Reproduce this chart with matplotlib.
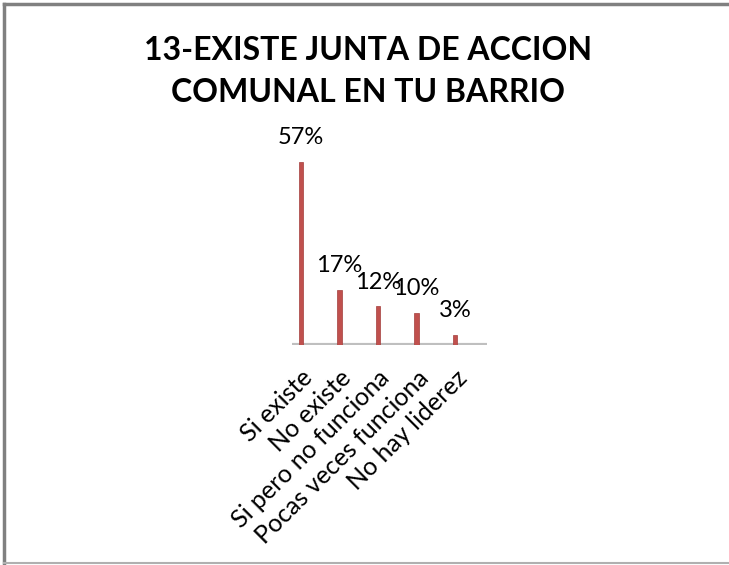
import matplotlib
matplotlib.use("Agg")
import matplotlib.pyplot as plt
from matplotlib.lines import Line2D

# data
categories = ["Si existe", "No existe", "Si pero no funciona", "Pocas veces funciona", "No hay liderez"]
percentages = [57, 17, 12, 10, 3]
value_labels = ["57%", "17%", "12%", "10%", "3%"]

plt.rcParams['font.family'] = ['Lato', 'DejaVu Sans']

W, H = 729, 565
fig = plt.figure(figsize=(W / 100, H / 100), dpi=100)

# outer frame of the chart area (no right edge visible in the original)
fig.add_artist(Line2D([4 / W, 4 / W], [0, 1 - 4 / H], color="#808080", lw=2.5))
fig.add_artist(Line2D([4 / W, 1], [1 - 4 / H, 1 - 4 / H], color="#808080", lw=2.5))
fig.add_artist(Line2D([4 / W, 1], [2 / H, 2 / H], color="#b0b0b0", lw=1.5))

ax = fig.add_axes([292 / W, 1 - 345 / H, 195 / W, 225 / H])
x = list(range(len(categories)))
ax.bar(x, percentages, width=0.11, color="#c0504d", edgecolor="#a33e3b", linewidth=0.5, zorder=3)

ax.set_xlim(-0.23, 4.83)
ax.set_ylim(0, 70)

for xi, v, lab in zip(x, percentages, value_labels):
    ax.annotate(lab, (xi, v), xytext=(0, 10), textcoords="offset points",
                ha="center", va="bottom", fontsize=17, color="#000000")

# gray floor line
ax.axhline(0, color="#bfbfbf", lw=3, zorder=2)
for s in ax.spines.values():
    s.set_visible(False)
ax.set_yticks([])
ax.set_xticks(x)
ax.set_xticklabels(categories, rotation=45, ha="right", va="top",
                   rotation_mode="anchor", fontsize=18)
ax.tick_params(axis="x", length=0, pad=15)

fig.text(368 / W, 1 - 50 / H, "13-EXISTE JUNTA DE ACCION", ha="center", va="center",
         fontsize=23, fontweight="bold")
fig.text(368 / W, 1 - 93 / H, "COMUNAL EN TU BARRIO", ha="center", va="center",
         fontsize=23, fontweight="bold")

fig.savefig("out.png", dpi=100)
